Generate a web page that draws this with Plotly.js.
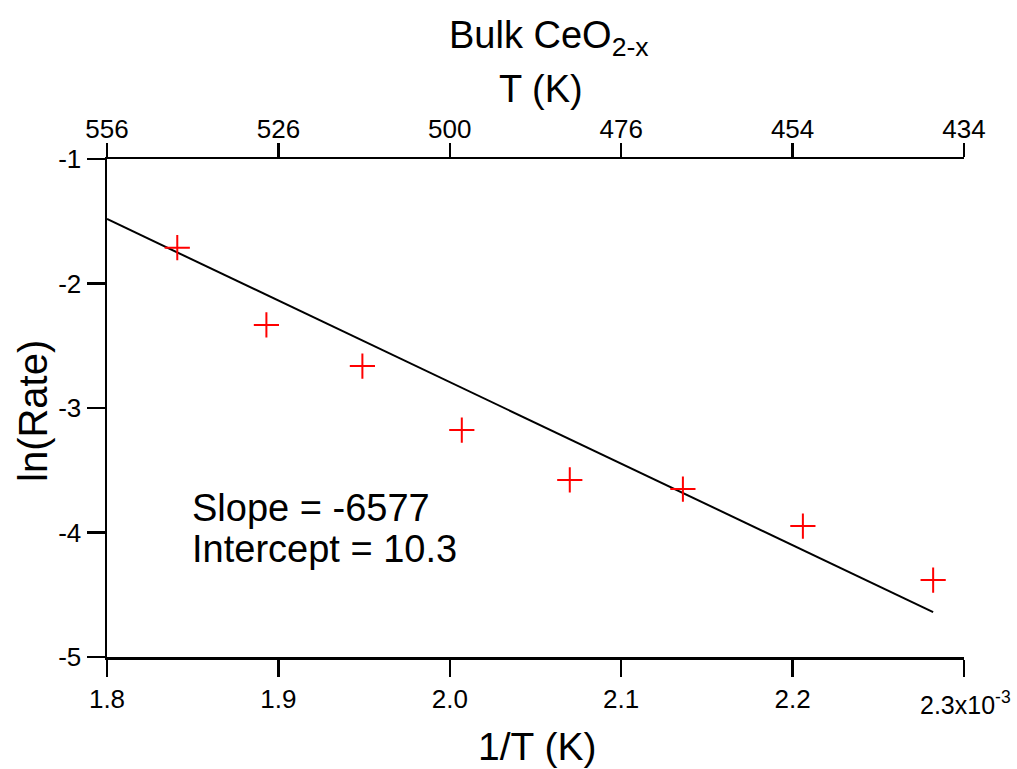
<!DOCTYPE html>
<html><head><meta charset="utf-8">
<script src="https://cdn.plot.ly/plotly-3.0.1.min.js"></script>
<style>body{margin:0;background:#fff}#chart{width:1017px;height:769px}</style>
</head><body><div id="chart"></div>
<script>
// Data (1/T in units of 1e-3 K^-1)
const invT = [1.841, 1.893, 1.949, 2.007, 2.070, 2.136, 2.206, 2.282];
const lnRate = [-1.712, -2.333, -2.663, -3.177, -3.578, -3.651, -3.948, -4.382];
const fitX = [1.800, 2.282];
const fitY = [-1.482, -4.639];
const bottomTicks = [1.8, 1.9, 2.0, 2.1, 2.2, 2.3];
const bottomLabels = ["1.8", "1.9", "2.0", "2.1", "2.2", ""];
const topLabels = ["556", "526", "500", "476", "454", "434"];
const yTicks = [-5, -4, -3, -2, -1];
const yLabels = ["-5", "-4", "-3", "-2", "-1"];

const reg = "Liberation Sans, Arial, sans-serif";

const traces = [
  {x: fitX, y: fitY, mode: 'lines', line: {color: '#000', width: 2}, xaxis: 'x', yaxis: 'y', hoverinfo: 'skip'},
  {x: invT, y: lnRate, mode: 'markers', marker: {symbol: 'cross-thin', size: 18, line: {color: '#ff0000', width: 2}}, xaxis: 'x', yaxis: 'y'},
  {x: [1.8, 2.3], y: [-10, -10], mode: 'markers', marker: {opacity: 0}, xaxis: 'x2', yaxis: 'y', showlegend: false, hoverinfo: 'skip'}
];

const layout = {
  width: 1017, height: 769,
  margin: {l: 107, r: 53, t: 159, b: 112},
  paper_bgcolor: '#fff', plot_bgcolor: '#fff',
  showlegend: false,
  xaxis: {
    range: [1.8, 2.3], tickmode: 'array', tickvals: bottomTicks, ticktext: bottomLabels,
    ticks: 'outside', ticklen: 17, tickwidth: 2.5, tickcolor: '#000',
    showline: true, linewidth: 2.5, linecolor: '#000', showgrid: false, zeroline: false,
    tickfont: {family: reg, size: 26, color: '#000'}
  },
  xaxis2: {
    overlaying: 'x', side: 'top', matches: 'x', range: [1.8, 2.3],
    tickmode: 'array', tickvals: bottomTicks, ticktext: topLabels,
    ticks: 'outside', ticklen: 14, tickwidth: 2.5, tickcolor: '#000', ticklabelstandoff: -6,
    showline: true, linewidth: 2.5, linecolor: '#000', showgrid: false, zeroline: false,
    tickfont: {family: reg, size: 26, color: '#000'}
  },
  yaxis: {
    range: [-5, -1], tickmode: 'array', tickvals: yTicks, ticktext: yLabels,
    ticks: 'outside', ticklen: 18, tickwidth: 2.5, tickcolor: '#000',
    showline: true, linewidth: 2.5, linecolor: '#000', showgrid: false, zeroline: false,
    tickfont: {family: reg, size: 26, color: '#000'}
  },
  annotations: [
    {text: 'Bulk CeO<sub>2-x</sub>', xref: 'paper', yref: 'paper', x: (549-107)/857, y: 1 + (159-38)/498, xanchor: 'center', yanchor: 'middle', showarrow: false, font: {family: reg, size: 38, color: '#000'}},
    {text: 'T (K)', xref: 'paper', yref: 'paper', x: (541-107)/857, y: 1 + (159-89)/498, xanchor: 'center', yanchor: 'middle', showarrow: false, font: {family: reg, size: 38, color: '#000'}},
    {text: '2.3x10<sup>-3</sup>', xref: 'paper', yref: 'paper', x: 1 + (1013-964)/857, y: -(703-657)/498, xanchor: 'right', yanchor: 'middle', showarrow: false, font: {family: reg, size: 25, color: '#000'}},
    {text: '1/T (K)', xref: 'paper', yref: 'paper', x: (537-107)/857, y: -(746-657)/498, xanchor: 'center', yanchor: 'middle', showarrow: false, font: {family: reg, size: 39, color: '#000'}},
    {text: 'ln(Rate)', xref: 'paper', yref: 'paper', x: -(107-33)/857, y: (657-411)/498, xanchor: 'center', yanchor: 'middle', textangle: -90, showarrow: false, font: {family: reg, size: 40, color: '#000'}},
    {text: 'Slope = -6577', xref: 'paper', yref: 'paper', x: (190-107)/857, y: (657-508)/498, xanchor: 'left', yanchor: 'middle', showarrow: false, font: {family: reg, size: 38, color: '#000'}},
    {text: 'Intercept = 10.3', xref: 'paper', yref: 'paper', x: (190-107)/857, y: (657-549)/498, xanchor: 'left', yanchor: 'middle', showarrow: false, font: {family: reg, size: 38, color: '#000'}}
  ]
};
Plotly.newPlot('chart', traces, layout, {staticPlot: true, displayModeBar: false});
</script></body></html>
